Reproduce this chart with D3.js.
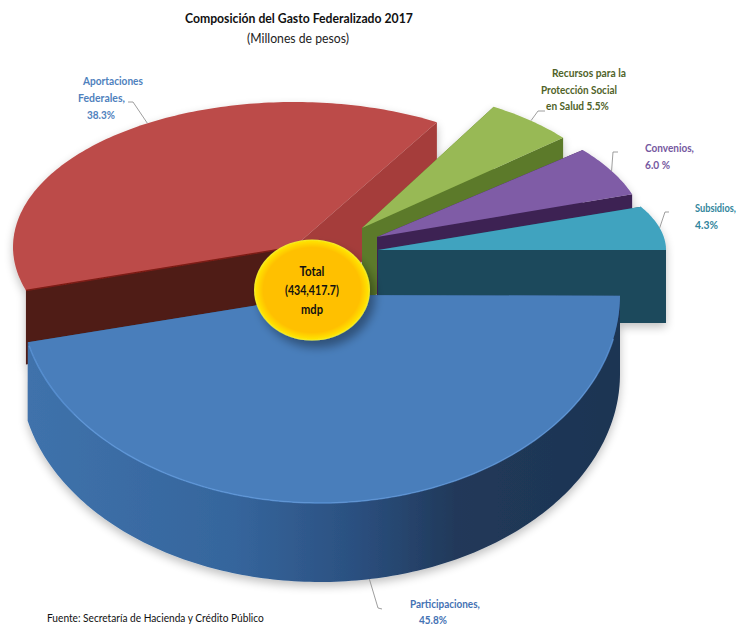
<!DOCTYPE html>
<html>
<head>
<meta charset="utf-8">
<script src="https://cdn.jsdelivr.net/npm/d3@7"></script>
<style>
  html, body { margin: 0; padding: 0; background: #fff; }
  text { font-family: Lato, "Open Sans", sans-serif; }
</style>
</head>
<body>
<svg id="chart" width="738" height="626"></svg>
<script>
const categories = ["Participaciones", "Aportaciones Federales", "Recursos para la Protección Social en Salud", "Convenios", "Subsidios"];
const shares = [45.8, 38.3, 5.5, 6.0, 4.3];
const shareLabels = ["45.8%", "38.3%", "5.5%", "6.0 %", "4.3%"];
const topColors = ["#4a7ebb", "#bc4c49", "#98b954", "#7f5ba6", "#40a3bf"];
const textColors = ["#4472b4", "#4f81bd", "#4f6228", "#7558a0", "#31859c"];

const TITLE = "Composición del Gasto Federalizado 2017";
const SUBTITLE = "(Millones de pesos)";
const SOURCE = "Fuente: Secretaría de Hacienda y Crédito Público";
const TOTAL_LINES = ["Total", "(434,417.7)", "mdp"];

// how each exploded slice sits on the page. turn/spread are in degrees / ratio,
// they fake the foreshortening of the original 3D view
const sliceView = [
  { cx: 320, cy: 295, rx: 300, ry: 208, h: 79, turn: 1,    spread: 1.01, startWall: "#2b4f7a", endWall: "#2b4f7a", rim: "url(#blueSide)", rimOn: true },
  { cx: 294, cy: 247, rx: 281, ry: 145, h: 74, turn: -2.5, spread: 1,    startWall: "#4f1f17", endWall: "#a53c3a", rim: "#4f1f17", rimOn: false },
  { cx: 362, cy: 228, rx: 263, ry: 140, h: 73, turn: -3,   spread: 1,    startWall: "#5b7a2b", endWall: "#5b7a2b", rim: "#5b7a2b", rimOn: false },
  { cx: 377, cy: 237, rx: 269, ry: 135, h: 73, turn: -3,   spread: 1,    startWall: "#3d2353", endWall: "#3d2353", rim: "#3d2353", rimOn: false },
  { cx: 378, cy: 250, rx: 288, ry: 106, h: 73, turn: -4.3, spread: 1.55, startWall: "#1f4a5c", endWall: "#1f4a5c", rim: "#1f4a5c", rimOn: false }
];

// labels: lines of text with x and width of each line, first baseline y
const labelView = [
  { lines: ["Participaciones,", "45.8%"], xs: [410, 419], ws: [70, 28], y: 608, step: 15.5, leaderTurn: -3, knee: [378, 608], end: [382, 609] },
  { lines: ["Aportaciones", "Federales,", "38.3%"], xs: [83, 78, 87], ws: [60, 47, 28], y: 85, step: 17, leaderTurn: 7, knee: [133, 102], end: [128, 102] },
  { lines: ["Recursos para la", "Protección Social", "en Salud 5.5%"], xs: [552, 541, 546], ws: [74, 76, 63], y: 77, step: 16.5, leaderTurn: 0, knee: [538, 111], end: [545, 111] },
  { lines: ["Convenios,", "6.0 %"], xs: [645, 645], ws: [49, 25], y: 152, step: 17, leaderTurn: 0, knee: [613, 152], end: [618, 152] },
  { lines: ["Subsidios,", "4.3%"], xs: [695, 695], ws: [41, 23], y: 212, step: 17, leaderTurn: 0, knee: [665, 212], end: [669, 212] }
];

const svg = d3.select("#chart");
const defs = svg.append("defs");

let blueSide = defs.append("linearGradient").attr("id", "blueSide")
  .attr("gradientUnits", "userSpaceOnUse").attr("x1", 30).attr("x2", 620).attr("y1", 0).attr("y2", 0);
[[0, "#3f72ab"], [0.35, "#35659c"], [0.55, "#2b5080"], [0.72, "#21395a"], [1, "#1d3452"]].forEach(s => {
  blueSide.append("stop").attr("offset", s[0]).attr("stop-color", s[1]);
});

let goldFill = defs.append("radialGradient").attr("id", "goldFill");
[[0, "#ffc000"], [0.84, "#ffc000"], [0.96, "#ffe000"], [1, "#f2ee30"]].forEach(s => {
  goldFill.append("stop").attr("offset", s[0]).attr("stop-color", s[1]);
});

let soft = defs.append("filter").attr("id", "soft").attr("x", "-5%").attr("y", "-5%").attr("width", "110%").attr("height", "115%");
soft.append("feGaussianBlur").attr("in", "SourceAlpha").attr("stdDeviation", 5).attr("result", "b");
soft.append("feOffset").attr("in", "b").attr("dy", 4).attr("result", "o");
soft.append("feComponentTransfer").attr("in", "o").attr("result", "s")
  .append("feFuncA").attr("type", "linear").attr("slope", 0.25);
soft.append("feGaussianBlur").attr("in", "SourceGraphic").attr("stdDeviation", 0.6).attr("result", "g");
let softMerge = soft.append("feMerge");
softMerge.append("feMergeNode").attr("in", "s");
softMerge.append("feMergeNode").attr("in", "g");

let goldShadow = defs.append("filter").attr("id", "goldShadow").attr("x", "-30%").attr("y", "-30%").attr("width", "170%").attr("height", "170%");
goldShadow.append("feDropShadow").attr("dx", 5).attr("dy", 7).attr("stdDeviation", 5)
  .attr("flood-color", "#000").attr("flood-opacity", 0.35);

const pie = d3.pie().sort(null).value(d => d).startAngle(Math.PI / 2).endAngle(Math.PI / 2 + 2 * Math.PI);
const arcs = pie(shares);

// view angle in degrees clockwise from east
function viewAngles(d, i) {
  let v = sliceView[i];
  let a0 = d.startAngle * 180 / Math.PI - 90, a1 = d.endAngle * 180 / Math.PI - 90;
  let mid = (a0 + a1) / 2;
  return [mid + v.turn + (a0 - mid) * v.spread, mid + v.turn + (a1 - mid) * v.spread];
}

function rimPoint(v, deg, dy) {
  let t = deg * Math.PI / 180;
  return [v.cx + v.rx * Math.cos(t), v.cy + v.ry * Math.sin(t) + (dy || 0)];
}

function rimPoints(v, a0, a1, dy) {
  let n = Math.max(2, Math.ceil(Math.abs(a1 - a0)));
  return d3.range(n + 1).map(k => rimPoint(v, a0 + (a1 - a0) * k / n, dy));
}

// the original font is narrower than anything installed, so squeeze to the measured width
function addText(parent, t, x, y, size, weight, fill, width) {
  let el = parent.append("text")
    .attr("font-size", size).attr("font-weight", weight).attr("fill", fill).text(t);
  let k = width / el.node().getComputedTextLength();
  el.attr("transform", `translate(${x},${y}) scale(${k},1)`);
  return el;
}

const line = d3.line();
const pieGroup = svg.append("g").attr("filter", "url(#soft)");

// back to front: the walls of each slice are hidden by the next slice's top
[1, 2, 3, 4, 0].forEach(i => {
  let v = sliceView[i];
  let [a0, a1] = viewAngles(arcs[i], i);
  let g = pieGroup.append("g");
  let apex = [v.cx, v.cy], apexLow = [v.cx, v.cy + v.h];

  g.append("path")
    .attr("d", line([apex, rimPoint(v, a0), rimPoint(v, a0, v.h), apexLow]) + "Z")
    .attr("fill", v.startWall);
  g.append("path")
    .attr("d", line([apex, rimPoint(v, a1), rimPoint(v, a1, v.h), apexLow]) + "Z")
    .attr("fill", v.endWall);

  // outer wall where the rim faces the viewer
  if (v.rimOn) {
    let pts = rimPoints(v, a0, a1, 0).concat(rimPoints(v, a1, a0, v.h));
    g.append("path").attr("d", line(pts) + "Z").attr("fill", v.rim);
  }

  let topPts = [apex].concat(rimPoints(v, a0, a1));
  g.append("path").attr("d", line(topPts) + "Z").attr("fill", topColors[i]);

  if (i === 0) {
    // light bevel on the front edge of the big slice
    g.append("path").attr("d", line(rimPoints(v, a0 + 12, a1 - 1)))
      .attr("fill", "none").attr("stroke", "#5f9ade").attr("stroke-width", 1.5).attr("stroke-opacity", 0.7);
  }
  if (i === 1) {
    g.append("path").attr("d", line([rimPoint(v, a0), apex]))
      .attr("stroke", "#7c1a12").attr("stroke-width", 1.5).attr("fill", "none");
  }
});

// leader lines start on the slice rim near the slice's middle angle
labelView.forEach((l, i) => {
  let v = sliceView[i];
  let [a0, a1] = viewAngles(arcs[i], i);
  let start = rimPoint(v, (a0 + a1) / 2 + l.leaderTurn, i === 0 ? v.h : 0);
  svg.append("path").attr("d", line([start, l.knee, l.end]))
    .attr("fill", "none").attr("stroke", "#858585").attr("stroke-width", 0.8);

  l.lines.forEach((t, k) => {
    addText(svg, t, l.xs[k], l.y + k * l.step, 12, "bold", textColors[i], l.ws[k]);
  });
});

// total badge
const badge = svg.append("g");
badge.append("ellipse").attr("cx", 312).attr("cy", 290).attr("rx", 58).attr("ry", 50.5)
  .attr("fill", "url(#goldFill)").attr("filter", "url(#goldShadow)");
const totalWidths = [25, 54, 22];
TOTAL_LINES.forEach((t, k) => {
  addText(badge, t, 312 - totalWidths[k] / 2, 276 + k * 19, 14, "bold", "#111", totalWidths[k]);
});

addText(svg, TITLE, 185, 23, 14, "bold", "#111", 228);
addText(svg, SUBTITLE, 247, 43, 14, "normal", "#222", 102);
addText(svg, SOURCE, 47, 622, 12, "normal", "#111", 217);
</script>
</body>
</html>
